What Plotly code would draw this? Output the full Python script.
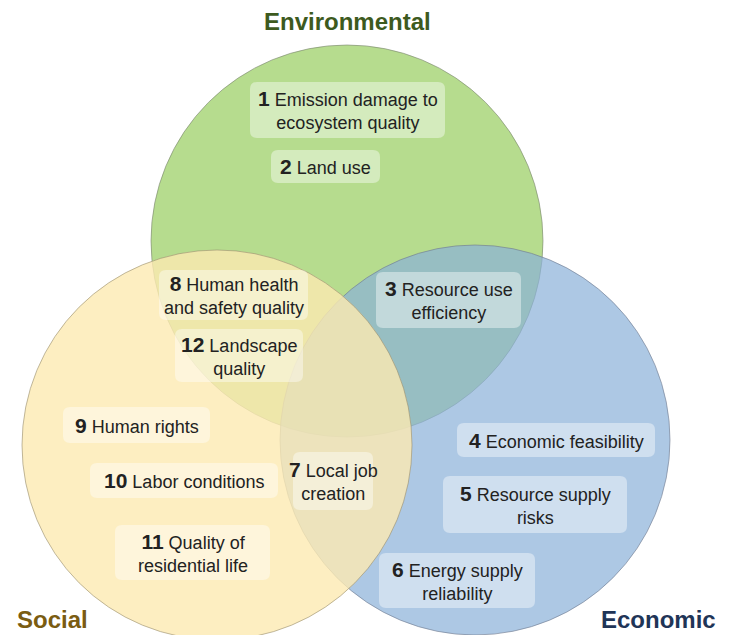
import plotly.graph_objects as go

# ---- data ----
circle_names = ["Environmental", "Economic", "Social"]
item_numbers = ["1", "2", "3", "4", "5", "6", "7", "8", "9", "10", "11", "12"]
item_line1 = ["Emission damage to", "Land use", "Resource use", "Economic feasibility",
              "Resource supply", "Energy supply", "Local job", "Human health",
              "Human rights", "Labor conditions", "Quality of", "Landscape"]
item_line2 = ["ecosystem quality", "", "efficiency", "", "risks", "reliability",
              "creation", "and safety quality", "", "", "residential life", "quality"]

# ---- layout (reference pixel coordinates) ----
W, H = 729, 635
PAD = 8  # default page body margin
circ_cx = [347, 475, 217]
circ_cy = [241, 440, 445]
circ_r = [196, 195, 195]
circ_fill = ["rgb(182,220,142)", "rgba(138,176,216,0.7)", "rgba(252,234,178,0.8)"]
circ_line = ["rgba(120,130,110,0.6)", "rgba(110,120,140,0.6)", "rgba(150,140,110,0.6)"]

box_x0 = [250, 271, 376, 457, 443, 379, 293, 159, 63, 90, 115, 175]
box_x1 = [445, 380, 521, 655, 627, 535, 373, 308, 210, 278, 270, 303]
box_y0 = [82, 150, 272, 423, 476, 553, 452, 270, 407, 463, 525, 329]
box_y1 = [138, 183, 328, 457, 533, 608, 510, 320, 443, 498, 580, 382]

title_x = [347, 718, 15]
title_y = [21, 619, 619]
title_anchor = ["center", "right", "left"]
title_color = ["#3d5a1e", "#1f3557", "#7a5c12"]

fig = go.Figure()
fig.add_trace(go.Scatter(x=[PAD, W], y=[PAD, H], mode="markers",
                         marker=dict(opacity=0), hoverinfo="skip", showlegend=False))

for i in range(3):
    fig.add_shape(type="circle", xref="x", yref="y",
                  x0=circ_cx[i] - circ_r[i], x1=circ_cx[i] + circ_r[i],
                  y0=circ_cy[i] - circ_r[i], y1=circ_cy[i] + circ_r[i],
                  fillcolor=circ_fill[i], line=dict(color=circ_line[i], width=1),
                  layer="below")


def rrect(x0, y0, x1, y1, r=7):
    return (f"M{x0+r},{y0} L{x1-r},{y0} Q{x1},{y0} {x1},{y0+r} "
            f"L{x1},{y1-r} Q{x1},{y1} {x1-r},{y1} L{x0+r},{y1} "
            f"Q{x0},{y1} {x0},{y1-r} L{x0},{y0+r} Q{x0},{y0} {x0+r},{y0} Z")


for i in range(len(item_numbers)):
    fig.add_shape(type="path", xref="x", yref="y",
                  path=rrect(box_x0[i], box_y0[i], box_x1[i], box_y1[i]),
                  fillcolor="rgba(255,255,255,0.42)", line=dict(width=0))
    txt = (f"<span style='font-size:21px'><b>{item_numbers[i]}</b></span> "
           f"{item_line1[i]}")
    if item_line2[i]:
        txt += f"<br>{item_line2[i]}"
    fig.add_annotation(x=(box_x0[i] + box_x1[i]) / 2, y=(box_y0[i] + box_y1[i]) / 2,
                       xref="x", yref="y", text=txt, showarrow=False, align="center",
                       font=dict(family="Liberation Sans, Arial", size=18, color="#222222"))

for i in range(3):
    fig.add_annotation(x=title_x[i], y=title_y[i], xref="x", yref="y",
                       xanchor=title_anchor[i],
                       text=f"<b>{circle_names[i]}</b>", showarrow=False,
                       font=dict(family="Liberation Sans, Arial", size=24, color=title_color[i]))

fig.update_xaxes(range=[PAD, W], visible=False, fixedrange=True)
fig.update_yaxes(range=[H, PAD], visible=False, fixedrange=True)
fig.update_layout(width=W - PAD, height=H - PAD, margin=dict(l=0, r=0, t=0, b=0),
                  plot_bgcolor="white", paper_bgcolor="white", showlegend=False)
fig.write_html("out.html")
